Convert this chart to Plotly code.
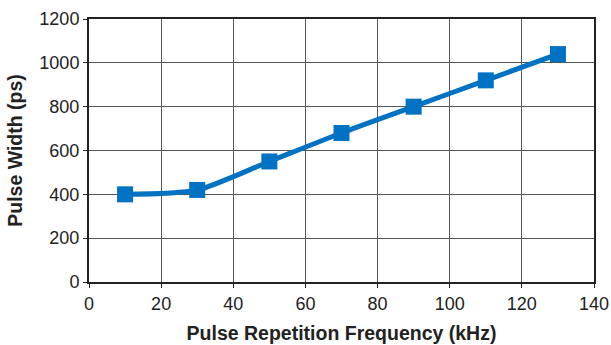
import plotly.graph_objects as go

freq_khz = [10, 30, 50, 70, 90, 110, 130]
pulse_width_ps = [400, 420, 550, 680, 800, 920, 1040]

x_ticks = [0, 20, 40, 60, 80, 100, 120, 140]
y_ticks = [0, 200, 400, 600, 800, 1000, 1200]

FONT = "Liberation Sans, Arial, sans-serif"

fig = go.Figure()
fig.add_trace(go.Scatter(
    x=freq_khz, y=pulse_width_ps, mode="lines+markers",
    line=dict(color="#0072C3", width=5, shape="spline", smoothing=0.7),
    marker=dict(symbol="square", size=16, color="#0072C3"),
    showlegend=False, cliponaxis=False,
))

axis_common = dict(
    showline=True, linecolor="#222222", linewidth=2, mirror=True,
    showgrid=True, gridcolor="#555555", gridwidth=1,
    ticks="outside", ticklen=4, tickcolor="#222222",
    tickfont=dict(family=FONT, size=18, color="#222222"),
    zeroline=False, automargin=False,
)

fig.update_layout(
    width=611, height=345,
    margin=dict(l=89, r=17, t=19, b=63, autoexpand=False),
    paper_bgcolor="white", plot_bgcolor="white",
    xaxis=dict(range=[0, 140], tickvals=x_ticks,
               title=dict(text="<b>Pulse Repetition Frequency (kHz)</b>",
                          font=dict(family=FONT, size=19.5, color="#222222"),
                          standoff=14),
               **axis_common),
    yaxis=dict(range=[0, 1200], tickvals=y_ticks,
               title=dict(text="<b>Pulse Width (ps)</b>",
                          font=dict(family=FONT, size=19.5, color="#222222"),
                          standoff=12),
               **axis_common),
)

fig.write_html("out.html",
               config={"displayModeBar": False},
               post_script="document.body.style.margin='0';document.body.style.overflow='hidden';")
